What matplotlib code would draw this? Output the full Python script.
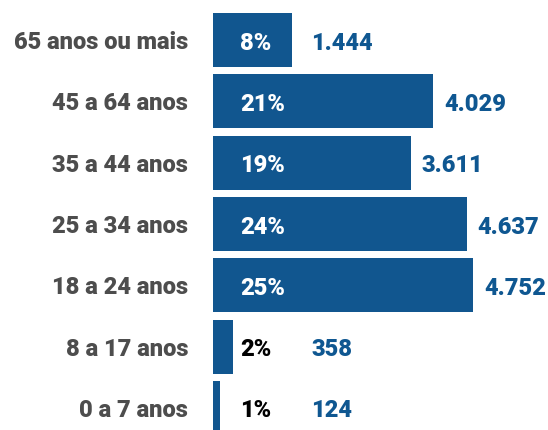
import matplotlib.pyplot as plt

# faixas etárias (de cima para baixo)
categories = ["65 anos ou mais", "45 a 64 anos", "35 a 44 anos", "25 a 34 anos",
              "18 a 24 anos", "8 a 17 anos", "0 a 7 anos"]
values = [1444, 4029, 3611, 4637, 4752, 358, 124]
value_labels = ["1.444", "4.029", "3.611", "4.637", "4.752", "358", "124"]
pct_labels = ["8%", "21%", "19%", "24%", "25%", "2%", "1%"]

bar_color = "#11568f"
value_color = "#0f5791"
cat_color = "#4d4d4d"

plt.rcParams['font.family'] = ['Roboto', 'DejaVu Sans']

fig = plt.figure(figsize=(5.48, 4.31), dpi=100)
ax = fig.add_axes([213 / 548, 0, 335 / 548, 1])

y = list(range(len(categories)))
ax.barh(y, values, height=0.88, color=bar_color)

ax.set_xlim(0, 4752 * 335 / 260)
ax.set_ylim(6 + 22 / 61.33, -41 / 61.33)
ax.axis("off")

for i, (cat, v, vl, pl) in enumerate(zip(categories, values, value_labels, pct_labels)):
    ax.annotate(cat, xy=(0, i), xytext=(-25, -8), textcoords="offset pixels",
                ha="right", va="baseline", fontsize=17, fontweight="heavy",
                color=cat_color)
    ax.annotate(pl, xy=(0, i), xytext=(27, -8.5), textcoords="offset pixels",
                ha="left", va="baseline", fontsize=17, fontweight="heavy",
                color="white" if v >= 1000 else "black")
    ax.annotate(vl, xy=(max(v, 1600), i), xytext=(11, -8.5), textcoords="offset pixels",
                ha="left", va="baseline", fontsize=17, fontweight="heavy",
                color=value_color)

fig.savefig("out.png", dpi=100)
